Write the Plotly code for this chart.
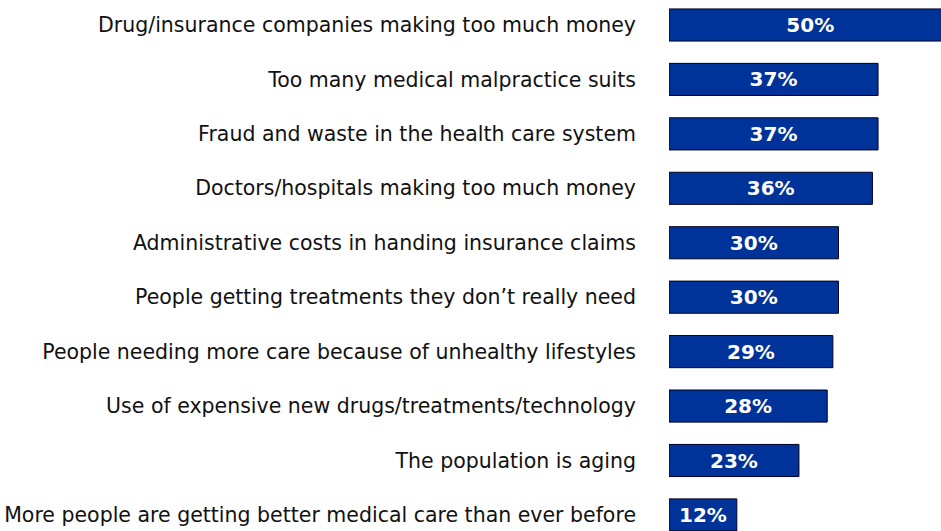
import plotly.graph_objects as go

categories = [
    "Drug/insurance companies making too much money",
    "Too many medical malpractice suits",
    "Fraud and waste in the health care system",
    "Doctors/hospitals making too much money",
    "Administrative costs in handing insurance claims",
    "People getting treatments they don\u2019t really need",
    "People needing more care because of unhealthy lifestyles",
    "Use of expensive new drugs/treatments/technology",
    "The population is aging",
    "More people are getting better medical care than ever before",
]
values = [50, 37, 37, 36, 30, 30, 29, 28, 23, 12]
value_labels = [f"{v}%" for v in values]

fig = go.Figure(go.Bar(
    x=values,
    y=categories,
    orientation="h",
    marker=dict(color="#003399", line=dict(color="#000022", width=1)),
    text=value_labels,
    textposition="inside",
    insidetextanchor="middle",
    textfont=dict(family="DejaVu Sans", size=20, color="white", weight="bold"),
    width=0.59,
    hoverinfo="skip",
))

fig.update_layout(
    width=941, height=531,
    margin=dict(l=669, r=0, t=0, b=0),
    paper_bgcolor="white", plot_bgcolor="white",
    showlegend=False,
    uniformtext=dict(mode=False),
)
fig.update_xaxes(range=[0, 48.14], visible=False, fixedrange=True)
fig.update_yaxes(
    type="category",
    range=[9.295, -0.459],
    automargin=False,
    showgrid=False, zeroline=False, showline=False, ticks="",
    ticklabelstandoff=32,
    tickfont=dict(family="DejaVu Sans", size=20.5, color="#111111"),
)

fig.write_html(
    "out.html",
    config={"displayModeBar": False, "staticPlot": True},
    post_script="document.body.style.margin='0';document.body.style.overflow='hidden';",
)
